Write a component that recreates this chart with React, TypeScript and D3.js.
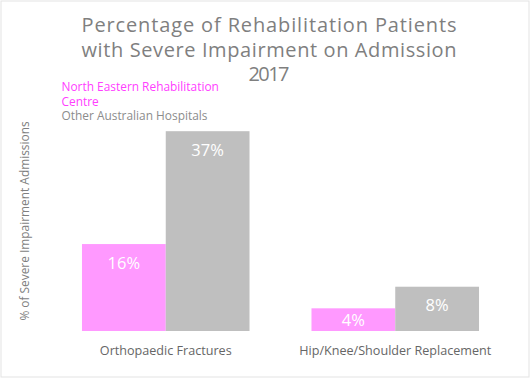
import React from "react";
import * as d3 from "d3";

const categories = ["Orthopaedic Fractures", "Hip/Knee/Shoulder Replacement"];
const seriesNames = ["North Eastern Rehabilitation Centre", "Other Australian Hospitals"];
const northEastern = [16.1, 4.2];
const otherHospitals = [37.0, 8.2];
const titleLines = [
  "Percentage of Rehabilitation Patients",
  "with Severe Impairment on Admission",
  "2017",
];
const yAxisTitle = "% of Severe Impairment Admissions";

const W = 531;
const H = 379;
const colors = ["#FF99FF", "#BFBFBF"];
const legendColors = ["#FF40FF", "#8C8C8C"];

export default function App() {
  const x = d3
    .scaleBand<string>()
    .domain(categories)
    .range([51, 510])
    .paddingInner(0.27)
    .paddingOuter(0.135);
  const xs = d3
    .scaleBand<string>()
    .domain(seriesNames)
    .range([0, x.bandwidth()])
    .padding(0);
  const y = d3.scaleLinear().domain([0, 40]).range([331, 115]);
  const series = [northEastern, otherHospitals];
  const font = "'Open Sans', sans-serif";

  return (
    <svg
      width={W}
      height={H}
      style={{ position: "absolute", left: 0, top: 0, background: "#fff" }}
    >
      <rect x={1} y={1} width={528} height={376} fill="#fff" stroke="#E3E3E3" />
      {titleLines.map((t, i) => (
        <text
          key={i}
          x={269}
          y={32.3 + i * 24.5}
          textAnchor="middle"
          fontFamily={font}
          fontSize={20}
          fill="#7F7F7F"
          textLength={i < 2 ? 375 : 41}
          lengthAdjust="spacing"
        >
          {t}
        </text>
      ))}
      {/* legend */}
      <text x={61.5} y={91} fontFamily={font} fontSize={11.9} fill={legendColors[0]}>
        North Eastern Rehabilitation
      </text>
      <text x={61.5} y={105.5} fontFamily={font} fontSize={11.9} fill={legendColors[0]}>
        Centre
      </text>
      <text x={61.5} y={120} fontFamily={font} fontSize={11.9} fill={legendColors[1]}>
        {seriesNames[1]}
      </text>
      {/* y axis title */}
      <text
        transform={`translate(29,221) rotate(-90)`}
        textAnchor="middle"
        fontFamily={font}
        fontSize={11.9}
        fill="#7F7F7F"
      >
        {yAxisTitle}
      </text>
      {categories.map((c, ci) => (
        <g key={c} transform={`translate(${x(c)},0)`}>
          {seriesNames.map((s, si) => {
            const v = series[si][ci];
            const top = y(v);
            const bottom = y(0);
            const bx = xs(s) as number;
            const ly = Math.min(top + 24.5, bottom - 5.5);
            return (
              <g key={s}>
                <rect
                  x={bx}
                  y={top}
                  width={xs.bandwidth()}
                  height={bottom - top}
                  fill={colors[si]}
                />
                <text
                  x={bx + xs.bandwidth() / 2}
                  y={ly}
                  textAnchor="middle"
                  fontFamily={font}
                  fontSize={16.5}
                  fill="#fff"
                >
                  {`${Math.round(v)}%`}
                </text>
              </g>
            );
          })}
          <text
            x={x.bandwidth() / 2}
            y={354.5}
            textAnchor="middle"
            fontFamily={font}
            fontSize={12.6}
            fill="#666"
          >
            {c}
          </text>
        </g>
      ))}
    </svg>
  );
}
